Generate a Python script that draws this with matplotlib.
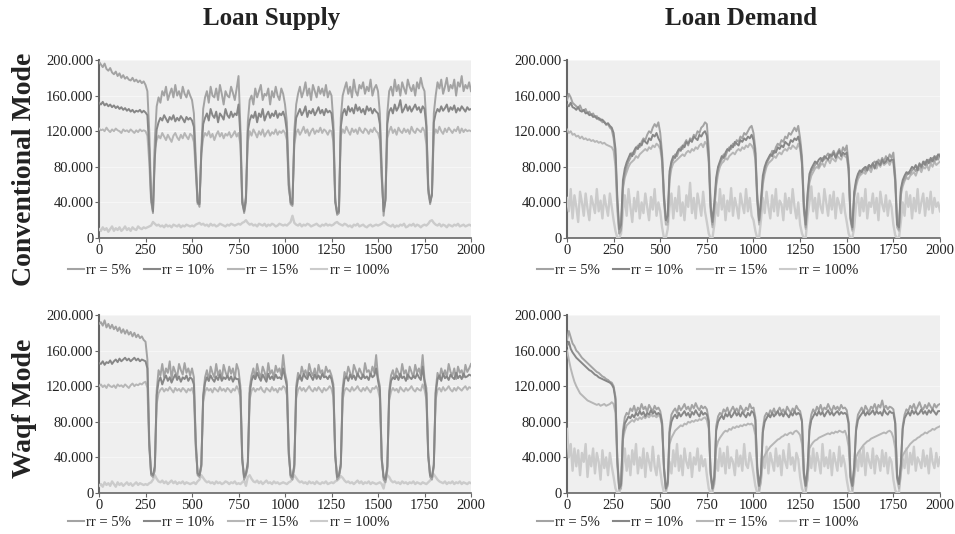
import matplotlib
matplotlib.use("Agg")
import matplotlib.pyplot as plt
from matplotlib.lines import Line2D

plt.rcParams['font.family'] = ['Liberation Serif', 'DejaVu Serif']

# time steps (every 10th step of the simulation, 0..2000)
steps = list(range(0, 2001, 10))

labels = ["rr = 5%", "rr = 10%", "rr = 15%", "rr = 100%"]
colors = ["#a3a3a3", "#878787", "#b6b6b6", "#cbcbcb"]

# values in thousands
# conventional mode - loan supply
conv_supply_5 = [
    198,195,192,196,190,188,191,186,184,187,182,185,180,183,179,181,178,177,180,176,178,175,177,174,176,
    172,165,120,48,28,110,148,158,152,165,160,170,155,162,168,158,172,160,165,157,170,162,158,166,160,
    155,140,90,42,35,100,145,158,165,152,170,160,158,168,155,172,162,150,165,160,158,170,163,155,168,
    182,125,45,28,40,130,155,160,150,168,158,165,172,155,162,160,168,150,165,158,170,160,155,168,162,
    150,130,70,38,36,120,150,162,170,158,165,175,160,168,155,172,165,158,170,162,168,160,172,158,165,
    160,130,45,26,28,135,160,168,175,162,170,158,178,165,160,172,168,175,162,170,165,178,160,168,172,
    165,140,80,25,45,140,165,170,160,178,165,172,160,175,168,162,178,170,165,172,160,175,168,180,170,
    165,130,60,38,50,140,160,175,168,178,162,170,180,165,172,168,178,160,175,170,182,165,172,168,175,
    165]
conv_supply_10 = [
    152,150,153,149,151,148,150,147,149,146,148,145,147,144,146,143,145,142,144,141,143,142,144,141,143,
    141,138,100,45,30,90,122,130,135,132,138,134,130,136,133,138,131,135,132,137,134,130,136,133,135,
    132,125,80,40,38,95,128,135,140,132,145,138,135,142,130,140,137,133,145,138,135,142,136,140,138,
    150,115,40,30,45,120,132,138,135,142,130,140,136,145,132,138,142,135,140,137,143,135,140,138,142,
    135,120,60,40,38,110,135,140,145,138,142,148,136,143,140,145,138,142,147,140,144,138,145,141,143,
    140,120,40,28,30,125,140,145,138,148,142,146,140,150,143,147,141,145,139,148,143,146,140,145,142,
    140,128,70,30,42,128,142,146,140,150,143,147,155,141,145,150,143,148,142,146,150,144,147,141,148,
    145,125,55,40,48,130,140,145,142,148,143,146,150,142,147,144,149,141,146,143,148,145,142,147,144,
    145]
conv_supply_15 = [
    123,121,122,120,124,121,119,122,120,123,121,120,118,122,120,121,119,122,120,118,121,119,122,120,121,
    120,115,85,40,30,100,110,115,112,118,114,110,116,112,108,115,118,113,110,116,112,118,114,111,117,
    115,108,75,38,40,95,112,118,115,120,113,117,110,116,120,114,118,112,117,115,119,113,116,120,114,
    118,105,38,32,48,108,120,115,122,118,113,120,116,122,114,118,121,115,119,117,122,116,120,118,121,
    118,110,55,42,45,105,118,122,116,120,125,118,122,115,120,123,117,121,119,124,118,122,120,116,121,
    120,108,42,30,35,115,122,118,125,120,116,123,119,122,117,124,120,118,123,121,117,122,119,124,120,
    118,110,65,32,45,112,120,125,118,122,116,124,120,118,123,119,122,117,125,120,118,123,121,119,124,
    120,105,50,42,50,115,122,118,125,120,117,123,119,124,121,118,122,120,125,118,123,119,122,120,121,
    120]
conv_supply_100 = [
    10,8,12,9,11,7,10,13,8,11,9,12,8,10,13,9,11,8,12,10,9,13,11,10,12,
    11,12,13,14,18,16,14,15,13,14,12,15,13,14,12,15,14,13,15,12,14,13,15,14,13,
    14,13,15,16,17,15,16,14,15,13,16,14,15,13,14,16,15,14,13,15,14,16,15,14,15,
    16,15,17,18,20,17,15,16,14,15,13,16,15,14,16,13,15,14,16,15,13,14,16,15,14,
    15,14,16,18,25,17,15,14,16,13,15,14,16,15,13,14,15,16,14,13,15,14,16,14,15,
    14,15,17,18,16,15,14,16,15,13,14,12,15,14,16,13,14,15,13,12,14,15,13,14,15,
    14,15,16,18,17,15,14,13,15,12,14,13,15,14,16,12,13,15,14,16,13,15,14,12,14,
    15,14,16,19,20,17,15,14,16,13,15,14,12,15,14,13,15,14,16,13,14,15,13,14,15,
    14]

# conventional mode - loan demand
conv_demand_5 = [
    155,162,158,152,150,148,146,149,144,143,145,140,142,138,140,136,137,133,134,130,131,127,128,124,122,
    112,92,40,5,10,58,72,80,86,90,96,94,100,104,102,108,112,110,116,120,118,124,128,125,130,
    118,95,50,22,18,70,84,88,94,92,98,102,100,106,110,104,112,110,116,114,120,118,124,126,130,
    128,100,40,15,35,62,78,84,88,94,92,98,102,100,106,104,110,108,114,112,118,116,120,124,126,
    118,100,50,18,38,65,76,84,88,92,98,95,102,106,104,110,108,114,112,118,116,120,124,120,126,
    112,92,40,12,45,68,75,78,82,85,80,86,90,88,92,95,90,94,98,92,96,100,94,102,98,
    104,82,25,10,48,62,70,72,76,78,75,80,82,78,84,86,82,88,85,90,86,92,88,94,90,
    96,70,18,10,52,62,66,70,74,72,76,78,75,80,82,78,84,86,82,88,85,90,86,92,88,
    94]
conv_demand_10 = [
    150,148,152,147,146,144,147,143,142,144,140,141,138,139,136,137,134,135,132,133,130,128,129,126,124,
    118,100,45,10,15,65,78,85,90,95,92,98,102,100,106,104,110,108,106,112,110,116,114,118,112,
    108,90,45,20,25,75,86,92,90,96,100,98,104,102,108,106,110,108,114,112,110,116,114,118,120,
    115,90,35,18,40,68,80,86,92,90,96,100,98,104,102,108,106,104,110,108,112,110,114,112,116,
    110,95,45,20,42,70,80,86,90,94,92,98,96,102,100,104,102,108,106,104,110,108,112,110,114,
    105,85,35,15,50,72,78,82,86,84,88,90,86,92,90,88,94,92,96,90,94,98,92,96,94,
    96,78,22,12,52,65,72,76,74,78,80,76,82,80,84,78,86,84,82,88,84,86,90,86,88,
    88,65,15,12,55,65,70,74,72,76,80,78,82,76,84,80,86,82,88,84,90,86,92,88,94,
    92]
conv_demand_15 = [
    122,118,120,116,117,114,115,112,114,111,112,110,111,109,110,108,109,107,108,106,107,105,104,103,102,
    98,80,30,5,8,55,68,74,80,84,86,88,92,90,94,96,98,100,98,102,100,104,102,106,104,
    100,85,40,15,15,65,78,84,86,88,90,92,94,92,96,98,96,100,98,102,100,104,106,102,108,
    105,85,30,12,30,58,72,80,84,86,90,88,92,94,96,94,98,100,98,102,100,104,102,106,104,
    100,88,40,15,32,60,72,80,84,86,88,92,90,94,96,94,98,100,98,102,100,104,102,100,106,
    100,82,30,10,40,62,70,74,78,80,78,82,84,80,86,88,84,90,88,86,92,90,88,94,92,
    90,75,20,8,45,58,66,70,72,74,72,76,78,74,80,82,78,84,80,86,82,84,86,82,88,
    84,62,12,8,48,58,64,68,66,70,72,74,70,76,78,74,80,78,82,76,84,80,86,82,84,
    86]
conv_demand_100 = [
    45,30,55,22,48,35,18,52,40,25,50,33,20,47,38,28,55,30,42,22,48,36,25,50,35,
    20,8,0,0,5,30,48,25,55,35,18,45,30,52,22,40,28,50,35,20,46,32,55,25,40,
    30,12,0,0,10,35,50,22,45,30,58,25,40,20,48,35,62,28,45,22,50,38,25,52,30,
    18,5,0,0,15,40,25,55,32,48,20,42,30,56,25,45,35,22,50,38,28,55,30,45,25,
    20,8,0,0,20,45,28,52,35,22,48,30,55,25,42,38,20,50,32,45,28,55,35,22,40,
    15,5,0,0,25,40,58,30,45,22,50,35,28,55,40,25,48,32,52,22,45,38,28,50,30,
    18,5,0,0,12,38,50,25,45,30,55,22,40,35,50,28,45,20,52,38,30,48,25,42,35,
    15,3,0,0,18,40,25,52,35,48,22,45,30,55,28,40,50,25,45,32,52,28,45,35,40,
    30]

# waqf mode - loan supply
waqf_supply_5 = [
    190,192,188,194,186,190,185,189,184,187,182,186,180,184,179,183,178,181,176,180,175,178,174,176,172,
    170,150,60,20,18,25,115,138,132,145,130,140,135,148,128,142,136,130,145,138,133,146,135,140,132,
    140,130,60,20,18,30,110,130,138,126,142,135,130,145,132,138,128,144,136,130,142,134,140,128,145,
    138,120,40,15,20,30,118,132,140,128,145,135,130,142,136,128,146,134,138,130,143,136,140,132,155,
    135,125,50,18,15,28,120,135,128,142,134,138,130,145,136,132,140,128,144,135,138,130,142,136,138,
    132,122,45,15,18,30,118,136,130,142,135,128,144,138,132,140,135,130,146,136,138,132,142,135,155,
    130,120,40,15,12,25,115,132,138,128,140,135,130,145,134,138,128,142,136,130,144,135,140,132,155,
    128,118,45,18,15,30,115,135,128,140,132,138,130,145,136,132,140,128,142,135,138,130,144,136,140,
    145]
waqf_supply_10 = [
    146,145,148,144,147,146,149,145,148,150,147,151,148,150,152,149,151,148,150,152,149,151,148,150,149,
    148,140,55,22,20,30,110,125,130,122,128,132,126,130,124,129,133,127,131,125,130,128,132,126,130,
    128,122,55,22,20,32,108,124,130,126,132,128,125,131,127,133,126,130,128,132,127,131,125,130,128,
    128,115,38,18,22,35,112,126,132,128,135,130,126,133,129,125,134,128,131,127,133,129,130,128,140,
    130,120,45,20,18,32,115,128,132,126,134,130,128,135,131,127,133,129,132,128,134,130,131,128,132,
    128,118,42,18,20,33,112,128,131,126,133,129,132,127,134,130,128,133,129,131,127,134,130,132,140,
    126,115,38,18,15,30,110,126,130,128,132,127,134,129,131,126,133,130,128,132,129,134,130,127,142,
    125,112,42,20,18,32,112,128,132,126,134,129,131,127,133,130,128,135,129,132,128,134,130,131,133,
    132]
waqf_supply_15 = [
    120,122,119,121,118,122,120,119,121,118,122,120,121,119,122,120,118,121,123,120,122,121,123,122,124,
    125,118,50,22,20,28,100,112,116,118,114,117,115,119,116,113,118,115,117,114,118,116,113,117,115,
    118,110,50,22,20,30,102,114,118,115,117,113,118,116,114,119,115,117,114,118,116,113,117,115,120,
    116,108,35,18,22,30,105,115,118,114,117,116,119,115,113,118,116,114,119,115,117,113,118,116,120,
    118,110,42,20,18,30,106,116,119,115,118,114,117,120,116,114,118,115,119,116,113,118,115,117,120,
    117,108,40,18,20,30,105,115,118,116,114,119,115,117,120,116,114,118,115,119,116,113,118,117,120,
    116,106,36,18,15,28,104,114,118,115,117,113,119,116,114,118,115,117,120,116,114,118,116,115,122,
    116,105,40,20,18,30,105,116,118,114,119,115,117,120,116,114,118,115,119,117,115,118,120,116,119,
    118]
waqf_supply_100 = [
    8,10,7,12,9,11,8,13,10,7,12,9,11,8,10,12,9,11,8,10,12,9,11,10,9,
    10,9,11,12,15,20,16,13,12,14,11,13,10,12,14,11,13,10,12,11,13,10,12,11,10,
    11,12,10,13,15,20,17,14,12,13,11,12,10,13,11,12,10,11,13,12,10,12,11,13,10,
    11,10,12,14,8,18,20,16,13,12,14,11,13,10,12,14,11,12,10,13,11,12,10,11,12,
    11,10,12,13,16,20,17,14,12,13,11,12,10,13,11,12,10,13,11,10,12,11,13,10,11,
    12,11,13,14,16,19,17,14,12,13,11,12,10,12,14,11,13,10,12,11,13,10,12,11,10,
    11,12,10,5,15,20,18,14,12,13,11,12,10,13,11,12,10,12,11,13,10,12,11,10,12,
    11,10,12,14,17,21,18,15,13,12,11,13,10,12,11,13,10,12,11,13,10,12,11,10,12,
    11]

# waqf mode - loan demand
waqf_demand_5 = [
    172,182,175,168,165,160,158,155,152,150,148,146,144,142,140,138,136,135,133,131,130,128,127,125,124,
    120,108,40,5,8,70,85,90,88,95,92,98,90,96,93,100,94,97,91,99,95,92,98,94,96,
    92,80,30,5,10,72,88,92,95,90,98,93,96,100,94,97,92,99,95,101,96,93,98,95,97,
    94,82,25,5,15,75,86,90,88,94,91,96,89,93,97,92,95,90,98,94,91,96,93,100,95,
    96,85,30,8,20,72,86,90,87,93,90,95,88,92,96,91,94,89,97,93,90,95,92,98,94,
    92,82,25,8,25,75,88,94,90,97,93,99,92,96,94,100,95,92,98,94,97,93,99,95,96,
    93,80,20,8,28,74,88,92,96,90,98,94,91,97,95,100,93,99,96,104,95,98,94,97,96,
    94,80,20,10,30,75,88,94,92,98,95,100,93,97,102,96,94,99,95,101,97,94,100,96,99,
    100]
waqf_demand_10 = [
    165,170,162,158,155,152,150,148,146,144,142,140,138,137,135,133,132,130,129,128,127,126,125,124,122,
    118,105,35,5,10,65,78,82,86,84,88,85,90,87,92,88,91,86,90,88,93,89,92,88,90,
    88,78,28,5,12,68,80,85,88,84,90,86,89,92,87,90,85,91,88,93,89,86,92,88,90,
    88,80,22,5,18,70,80,84,87,83,89,86,90,85,88,92,87,90,86,91,88,85,90,87,92,
    90,82,28,8,22,68,80,84,88,85,90,86,89,92,87,90,86,91,88,85,90,87,92,88,90,
    88,80,22,8,28,70,82,86,90,87,92,88,91,86,90,93,88,91,87,90,92,88,91,89,90,
    88,78,18,8,30,70,82,86,89,92,87,91,88,90,93,88,92,89,91,87,94,90,88,92,90,
    90,78,18,10,32,72,84,88,91,87,93,89,92,88,90,94,89,92,88,93,90,94,91,88,92,
    92]
waqf_demand_15 = [
    160,150,140,132,125,120,116,112,110,108,106,104,103,102,101,100,99,100,98,99,100,98,99,100,102,
    100,90,30,3,5,60,70,76,78,80,82,80,84,82,85,83,86,84,87,85,88,86,87,85,88,
    85,75,25,3,8,55,62,66,70,72,74,76,75,78,77,80,79,81,80,82,81,83,82,84,85,
    82,72,20,3,10,50,58,62,65,68,70,69,72,71,74,73,75,74,76,75,77,76,78,77,78,
    75,65,20,3,12,38,42,46,49,52,54,56,58,60,61,63,64,66,65,67,68,66,69,70,68,
    65,55,18,3,15,50,54,57,59,60,62,63,64,65,66,67,66,68,67,69,68,70,69,68,70,
    64,52,15,3,18,40,45,48,51,54,56,58,59,61,62,63,64,65,66,67,68,67,69,70,68,
    62,50,15,5,20,42,46,49,52,55,57,59,60,62,63,65,66,68,67,69,70,72,71,73,74,
    75]
waqf_demand_100 = [
    72,40,55,25,50,30,48,20,45,35,55,18,42,30,50,22,45,35,15,48,28,40,20,45,30,
    18,5,0,0,8,30,50,25,42,20,48,32,55,22,40,28,50,18,45,35,25,52,30,20,42,
    25,10,0,0,12,35,22,48,30,55,25,42,20,50,35,28,45,18,40,32,50,25,42,30,38,
    20,5,0,0,15,38,25,50,30,45,22,52,28,40,35,20,48,30,42,25,55,32,28,45,35,
    22,8,0,0,18,40,28,52,22,45,35,25,50,30,42,20,48,35,28,55,32,40,25,45,38,
    18,5,0,0,20,42,28,50,25,45,35,22,55,30,40,28,48,20,45,35,25,52,30,42,32,
    15,3,0,0,22,40,25,48,30,52,20,45,35,28,50,22,42,38,25,48,30,45,22,40,35,
    15,3,0,0,25,38,28,50,22,45,32,52,25,40,35,28,48,30,42,22,50,35,28,45,30,
    40]

panels = [
    [conv_supply_5, conv_supply_10, conv_supply_15, conv_supply_100],
    [conv_demand_5, conv_demand_10, conv_demand_15, conv_demand_100],
    [waqf_supply_5, waqf_supply_10, waqf_supply_15, waqf_supply_100],
    [waqf_demand_5, waqf_demand_10, waqf_demand_15, waqf_demand_100],
]

def fmt_thousands(v, pos):
    if v == 0:
        return "0"
    return "%d.000" % v

fig = plt.figure(figsize=(9.55, 5.34), dpi=100)
boxes = [
    [0.1037, 0.5543, 0.3895, 0.3333],
    [0.5937, 0.5543, 0.3906, 0.3333],
    [0.1037, 0.0768, 0.3895, 0.3333],
    [0.5937, 0.0768, 0.3906, 0.3333],
]
legend_pos = [(0.0712, 0.494), (0.5623, 0.494), (0.0712, 0.021), (0.5623, 0.021)]
widths = [1.4, 1.4, 1.4, 1.7]

for k, series in enumerate(panels):
    ax = fig.add_axes(boxes[k])
    ax.set_facecolor("#efefef")
    # flat ones first so the darker series sit on top
    for j in [3, 2, 0, 1]:
        ax.plot(steps, series[j], color=colors[j], lw=widths[j], zorder=3)
    ax.set_xlim(0, 2000)
    ax.set_ylim(0, 200)
    ax.set_xticks(range(0, 2001, 250))
    ax.set_yticks(range(0, 201, 40))
    ax.yaxis.set_major_formatter(plt.FuncFormatter(fmt_thousands))
    ax.grid(axis='y', color='#f6f6f6', lw=0.8, zorder=1)
    ax.set_axisbelow(True)
    for s in ['top', 'right']:
        ax.spines[s].set_visible(False)
    ax.spines['left'].set_color('#666666')
    ax.spines['left'].set_linewidth(1.5)
    ax.spines['bottom'].set_color('#666666')
    ax.spines['bottom'].set_linewidth(1.2)
    ax.tick_params(direction='out', length=3, width=0.8, color='#666666',
                   labelsize=10.5, labelcolor='#222222', pad=1)
    handles = [Line2D([0], [0], color=colors[j], lw=1.5) for j in range(4)]
    ax.legend(handles, labels, loc='center left', bbox_to_anchor=legend_pos[k],
              bbox_transform=fig.transFigure, ncol=4, frameon=False,
              handlelength=1.1, handletextpad=0.15, columnspacing=0.9,
              borderpad=0, borderaxespad=0, fontsize=10.5, labelcolor='#222222')

fig.text(0.284, 0.966, "Loan Supply", ha='center', va='center', fontsize=18, weight='bold', color='#222222')
fig.text(0.776, 0.966, "Loan Demand", ha='center', va='center', fontsize=18, weight='bold', color='#222222')
fig.text(0.026, 0.683, "Conventional Mode", ha='center', va='center', rotation=90,
         fontsize=20, weight='bold', color='#222222')
fig.text(0.026, 0.236, "Waqf Mode", ha='center', va='center', rotation=90,
         fontsize=20, weight='bold', color='#222222')

fig.savefig("out.png", dpi=100)
